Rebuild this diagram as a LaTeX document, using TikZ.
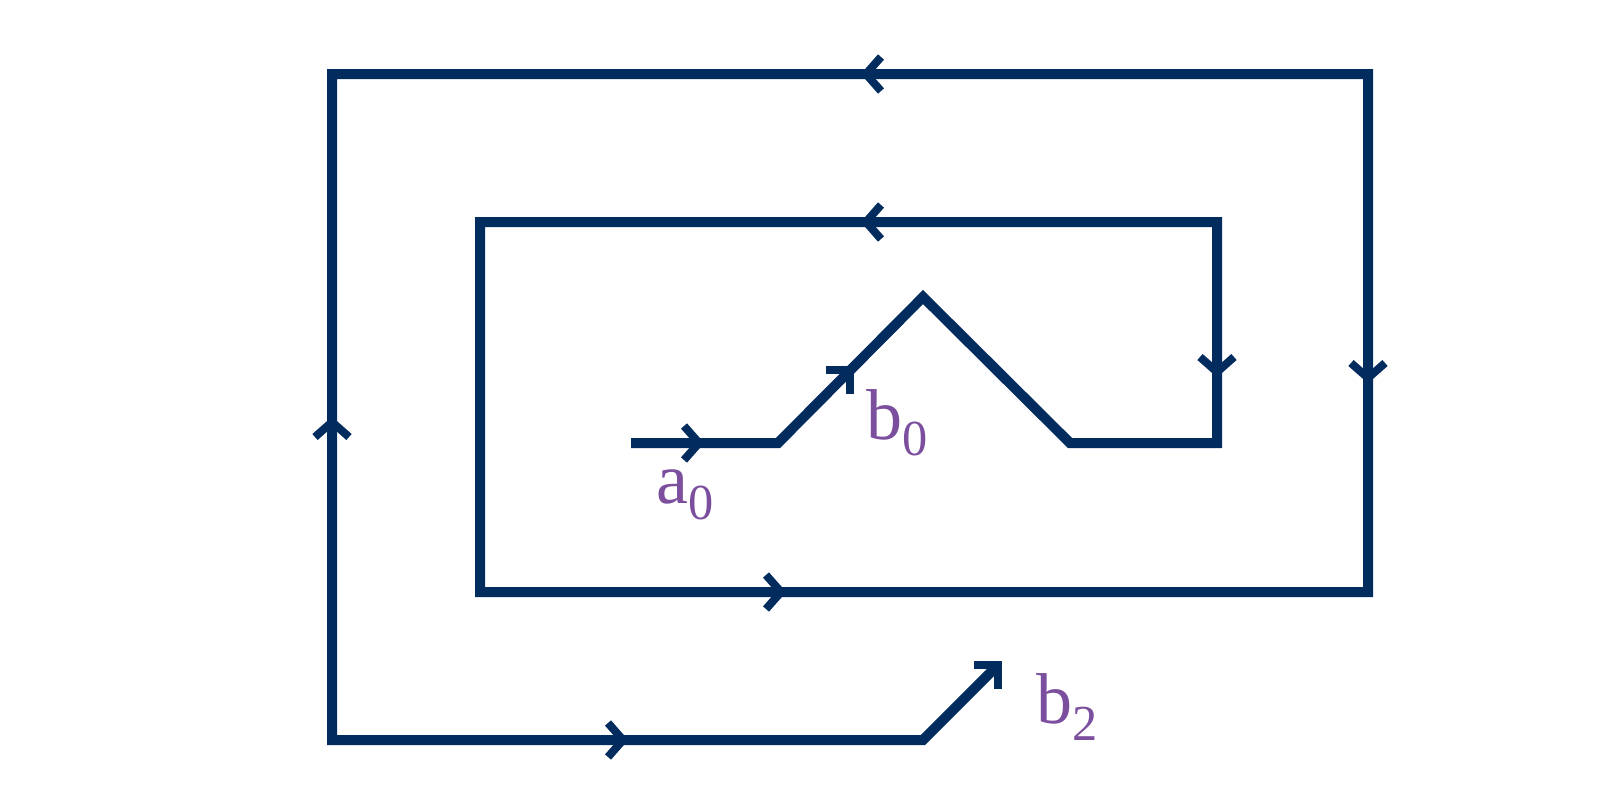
\documentclass[tikz,border=0pt]{standalone}
\usepackage{amsmath}
\usepackage{fontspec}
\setmainfont{Liberation Serif}
\usetikzlibrary{positioning}
\definecolor{pathblue}{HTML}{022B5E}
\definecolor{labelpurple}{HTML}{7B4F9E}
\tikzset{
    curve/.style={draw=pathblue,line width=5pt,miter limit=10},
    chev/.pic={\draw[pathblue,line width=4pt] (-15,-17) -- (0,0) -- (-15,17);},
    corner/.pic={\draw[pathblue,line width=4pt] (-24,0) -- (0,0) -- (0,24);},
    lbl/.style={text=labelpurple,font=\fontsize{36}{36}\selectfont,inner sep=0pt}
}
\begin{document}
\begin{tikzpicture}[x=0.5pt,y=-0.5pt]
    \useasboundingbox (0,0) rectangle (1600,800);
    % corners of the curve
    \coordinate (s) at (631,443);
    \coordinate (k1) at (778,443);
    \coordinate (p) at (923,297);
    \coordinate (k2) at (1070,443);
    \coordinate (k3) at (1217,443);
    \coordinate (k4) at (1217,222);
    \coordinate (k5) at (480,222);
    \coordinate (k6) at (480,592);
    \coordinate (k7) at (1368,592);
    \coordinate (k8) at (1368,74);
    \coordinate (k9) at (332,74);
    \coordinate (k10) at (332,740);
    \coordinate (k11) at (923,740);
    \coordinate (e) at (998,665);
    \coordinate (m) at (850,370);
    \draw[curve] (s) -- (k1) -- (p) -- (k2) -- (k3) -- (k4) -- (k5) -- (k6)
        -- (k7) -- (k8) -- (k9) -- (k10) -- (k11) -- (e);
    % direction marks
    \pic at (699,443) {chev};
    \pic[rotate=180] at (866,74) {chev};
    \pic[rotate=180] at (866,222) {chev};
    \pic[rotate=-90] at (1217,372) {chev};
    \pic[rotate=-90] at (1368,378) {chev};
    \pic[rotate=90] at (332,422) {chev};
    \pic at (781,592) {chev};
    \pic at (623,740) {chev};
    \pic at (m) {corner};
    \pic at (e) {corner};
    % labels
    \node[lbl] (a0) at (686,495) {$\text{a}_{\text{0}}$};
    \node[lbl] (b0) at (898,423) {$\text{b}_{\text{0}}$};
    \node[lbl] (b2) at (1068,707) {$\text{b}_{\text{2}}$};
\end{tikzpicture}
\end{document}
